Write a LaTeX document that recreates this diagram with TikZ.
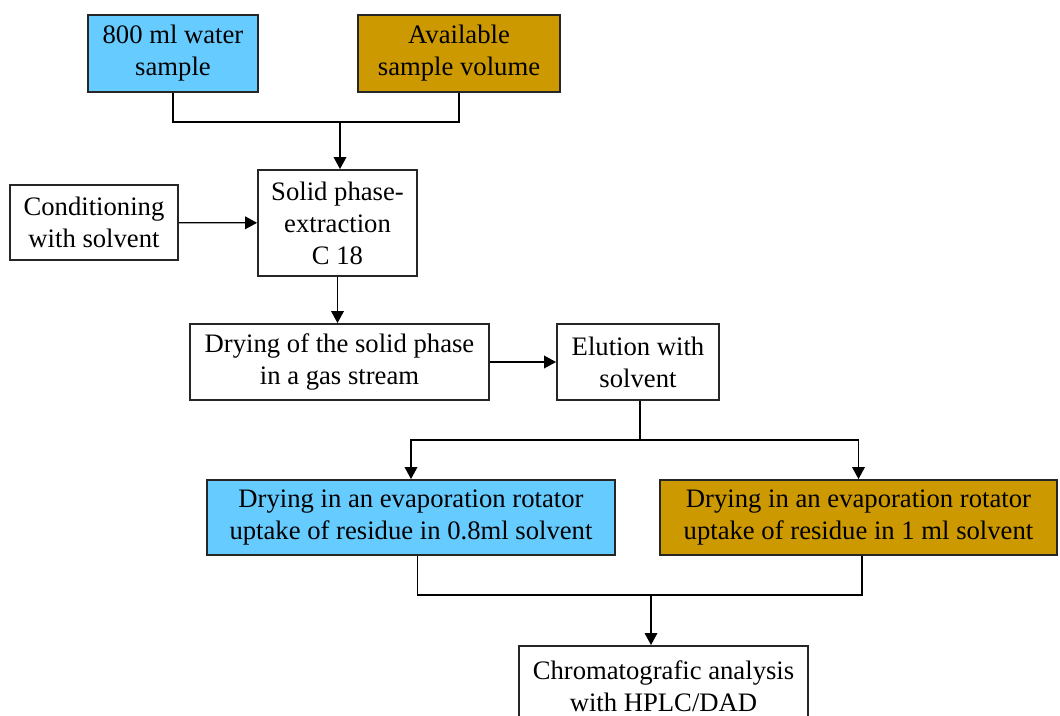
\documentclass[tikz,border=0pt]{standalone}
\usepackage{fontspec}
\setmainfont{Liberation Serif}
\usepackage{tikz}
\usetikzlibrary{arrows.meta}
\usetikzlibrary{shapes}

\definecolor{skyfill}{HTML}{66CCFF}
\definecolor{goldfill}{HTML}{CC9900}

\begin{document}
\begin{tikzpicture}[x=0.75pt,y=-0.75pt,
	every node/.style={draw=black!85,line width=1.4pt,align=center,inner sep=0pt,
		font=\fontsize{20}{24}\selectfont},
	flow/.style={line width=1pt,-{Triangle[length=9pt,width=9.5pt]}},
	link/.style={line width=1pt}]
\useasboundingbox (0,0) rectangle (1060,716);
\node[fill=skyfill,minimum width=127.5pt,minimum height=57.75pt] (water) at (173,53.5) {800 ml water\\sample};
\node[fill=goldfill,minimum width=151.5pt,minimum height=57.75pt] (avail) at (459,53.5) {Available\\sample volume};
\node[minimum width=119.25pt,minimum height=79.5pt] (spe) at (337.5,223) {Solid phase-\\extraction\\C 18};
\node[minimum width=126pt,minimum height=56.25pt] (cond) at (94,222.5) {Conditioning\\with solvent};
\node[minimum width=224.25pt,minimum height=57pt] (dry) at (339.5,362) {Drying of the solid phase\\in a gas stream};
\node[minimum width=121.5pt,minimum height=57pt] (elu) at (638,362) {Elution with\\solvent};
\node[fill=skyfill,minimum width=306pt,minimum height=56.25pt] (left) at (411,517.5) {Drying in an evaporation rotator\\uptake of residue in 0.8ml solvent};
\node[fill=goldfill,minimum width=297.75pt,minimum height=56.25pt] (right) at (858.5,517.5) {Drying in an evaporation rotator\\uptake of residue in 1 ml solvent};
\node[minimum width=216.75pt,minimum height=60pt,anchor=north] (chrom) at (663.5,645) {Chromatografic analysis\\with HPLC/DAD};

% junctions
\coordinate (top) at (340,122);
\coordinate (split) at (640,440);
\coordinate (merge) at (651,595);

\draw[link] (water.south) |- (top) -| (avail.south);
\draw[flow] (top) -- (top |- spe.north);
\draw[flow] (cond) -- (spe);
\draw[flow] (spe.south) -- (dry.north -| spe.south);
\draw[flow] (dry) -- (elu);
\draw[link] (elu.south -| split) -- (split);
\draw[flow] (split) -| (left.north);
\draw[flow] (split) -| (right.north);
\draw[link] ([xshift=5pt]left.south) |- (merge) -| ([xshift=2.5pt]right.south);
\draw[flow] (merge) -- (chrom.north -| merge);
\end{tikzpicture}
\end{document}
